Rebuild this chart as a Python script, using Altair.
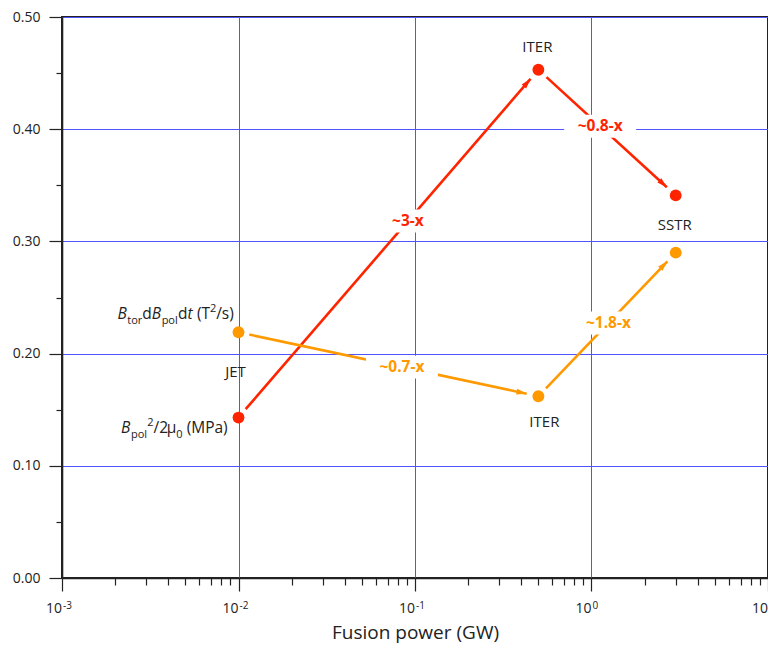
import math
import altair as alt
import pandas as pd

# ---------------- data ----------------
machines = ["JET", "ITER", "SSTR"]
fusion_power = [0.01, 0.5, 3.0]          # GW
bpol_pressure = [0.143, 0.453, 0.341]    # Bpol^2/2mu0 (MPa)  (red)
btor_dbpol = [0.219, 0.162, 0.290]       # Btor dBpol/dt (T^2/s) (orange)
red_ratios = ["~3-x", "~0.8-x"]
orange_ratios = ["~0.7-x", "~1.8-x"]
red_label_frac = [0.565, 0.45]
orange_label_frac = [0.545, 0.51]
x_decades = [0.001, 0.01, 0.1, 1.0, 10.0]
x_decade_exp = ["-3", "-2", "-1", "0", ""]

RED = "#FF2400"
ORANGE = "#FF9900"
GRID = "#5252FF"
INK = "#222222"
FONT = "Open Sans"

W, H = 706, 561
XMIN, XMAX = 1e-3, 10.0
YMIN, YMAX = 0.0, 0.5


def to_px(x, y):
    u = (math.log10(x) - math.log10(XMIN)) / (math.log10(XMAX) - math.log10(XMIN)) * W
    v = (YMAX - y) / (YMAX - YMIN) * H
    return u, v


def from_px(u, v):
    x = 10 ** (math.log10(XMIN) + u / W * (math.log10(XMAX) - math.log10(XMIN)))
    y = YMAX - v / H * (YMAX - YMIN)
    return x, y


segs, heads, boxes = [], [], []
GAP0, GAP1 = 11, 12
for series, ys, ratios, fracs in [
    ("red", bpol_pressure, red_ratios, red_label_frac),
    ("orange", btor_dbpol, orange_ratios, orange_label_frac),
]:
    for i in range(len(fusion_power) - 1):
        u0, v0 = to_px(fusion_power[i], ys[i])
        u1, v1 = to_px(fusion_power[i + 1], ys[i + 1])
        du, dv = u1 - u0, v1 - v0
        L = math.hypot(du, dv)
        eu, ev = du / L, dv / L
        sx, sy = from_px(u0 + eu * GAP0, v0 + ev * GAP0)
        ex, ey = from_px(u1 - eu * GAP1, v1 - ev * GAP1)
        segs.append(dict(x=sx, y=sy, x2=ex, y2=ey, s=series))
        ang = (math.degrees(math.atan2(du, -dv)) + 360) % 360
        heads.append(dict(x=ex, y=ey, angle=ang, s=series))
        f = fracs[i]
        lx, ly = from_px(u0 + du * f, v0 + dv * f)
        txt = ratios[i]
        w = 10 * len(txt) + 12
        hh = 11.5 / (w / 2)
        path = f"M-1,-{hh:.3f}L1,-{hh:.3f}L1,{hh:.3f}L-1,{hh:.3f}Z"
        boxes.append(dict(x=lx, y=ly, text=txt, s=series, size=w * w, path=path))

seg_df = pd.DataFrame(segs)
head_df = pd.DataFrame(heads)
box_df = pd.DataFrame(boxes)
dec_df = pd.DataFrame(dict(x=x_decades, e=x_decade_exp))

pts = pd.DataFrame(
    [dict(x=fusion_power[i], y=bpol_pressure[i], s="red", m=machines[i]) for i in range(3)]
    + [dict(x=fusion_power[i], y=btor_dbpol[i], s="orange", m=machines[i]) for i in range(3)]
)

color_scale = alt.Scale(domain=["red", "orange"], range=[RED, ORANGE])

decade_test = "abs(log(datum.value)/LN10 - round(log(datum.value)/LN10)) < 0.001"
x_values = []
for d in range(-3, 1):
    for m in range(1, 10):
        x_values.append(round(m * 10 ** d, 6))
x_values.append(10)

y_test = "abs(datum.value*10 - round(datum.value*10)) < 0.001"
y_values = [round(0.05 * k, 2) for k in range(11)]

x_scale = alt.Scale(type="log", domain=[XMIN, XMAX], nice=False)
y_scale = alt.Scale(domain=[YMIN, YMAX], nice=False, zero=False)

x_axis = alt.Axis(
    values=x_values,
    labels=False,
    tickSize={"condition": {"test": decade_test, "value": 13}, "value": 7},
    gridOpacity={"condition": {"test": decade_test, "value": 1}, "value": 0},
    grid=True,
    gridColor=GRID,
    gridWidth=1,
    title="Fusion power (GW)",
    titleFont=FONT,
    titleFontSize=19,
    titleFontWeight="normal",
    titleColor=INK,
    titlePadding=32,
    domainColor=INK,
    domainWidth=1.6,
    tickColor=INK,
    tickWidth=1.2,
)
y_axis = alt.Axis(
    values=y_values,
    labelExpr=f"{y_test} ? format(datum.value, '.2f') : ''",
    tickSize={"condition": {"test": y_test, "value": 13}, "value": 6},
    gridOpacity={"condition": {"test": y_test, "value": 1}, "value": 0},
    grid=True,
    gridColor=GRID,
    gridWidth=1,
    title=None,
    labelFont=FONT,
    labelFontSize=14,
    labelColor=INK,
    labelPadding=9,
    labelOverlap=False,
    labelFlush=False,
    domainColor=INK,
    domainWidth=1.6,
    tickColor=INK,
    tickWidth=1.2,
)

X = alt.X("x:Q", scale=x_scale, axis=x_axis)
Y = alt.Y("y:Q", scale=y_scale, axis=y_axis)
C = alt.Color("s:N", scale=color_scale, legend=None)

lines = alt.Chart(seg_df).mark_rule(strokeWidth=2.6).encode(
    x=X, y=Y, x2="x2:Q", y2="y2:Q", color=C
)
arrow_path = "M0,0L0.42,1.45L-0.42,1.45Z"
arrows = alt.Chart(head_df).mark_point(
    shape=arrow_path, filled=True, size=196, opacity=1, strokeWidth=0
).encode(x="x:Q", y="y:Q", angle=alt.Angle("angle:Q", scale=None), color=C)

bg = alt.Chart(box_df).mark_point(filled=True, color="white", opacity=1, strokeWidth=0).encode(
    x="x:Q", y="y:Q",
    shape=alt.Shape("path:N", scale=None),
    size=alt.Size("size:Q", scale=None),
)
ratio_text = alt.Chart(box_df).mark_text(
    font=FONT, fontSize=15.5, fontWeight="bold", baseline="middle", align="center"
).encode(x="x:Q", y="y:Q", text="text:N", color=C)

dots = alt.Chart(pts).mark_circle(size=140, opacity=1).encode(x="x:Q", y="y:Q", color=C)

# x tick labels 10^n composed of base and superscript
dec_base = alt.Chart(dec_df).mark_text(
    text="10", font=FONT, fontSize=14, color=INK, align="right", baseline="alphabetic", dx=0
).encode(x="x:Q", y=alt.value(H + 35))
dec_sup = alt.Chart(dec_df).mark_text(
    font=FONT, fontSize=10, color=INK, align="left", baseline="alphabetic", dx=1
).encode(x="x:Q", y=alt.value(H + 31), text="e:N")


def note(x, y, text, dx, dy, align="center"):
    df = pd.DataFrame([dict(x=x, y=y, t=text)])
    return alt.Chart(df).mark_text(
        font=FONT, fontSize=15, color=INK, dx=dx, dy=dy, align=align, baseline="middle"
    ).encode(x="x:Q", y="y:Q", text="t:N")


# approximate Open Sans advance widths (em) for composing rich labels
ADV = {' ': 0.26, '(': 0.296, ')': 0.296, '/': 0.28, '0': 0.572, '2': 0.572,
       'B': 0.635, 'M': 0.892, 'P': 0.595, 'T': 0.539, 'a': 0.556, 'd': 0.613, 'l': 0.266,
       'o': 0.604, 'p': 0.613, 'r': 0.408, 's': 0.477, 't': 0.353, 'μ': 0.62}


def rich(x, y, pieces, right_dx, base_dy):
    widths = [sum(ADV.get(ch, 0.55) for ch in t) * fs for t, fs, st, off in pieces]
    cur = right_dx - sum(widths)
    df = pd.DataFrame([dict(x=x, y=y)])
    layers = []
    for (t, fs, st, off), w in zip(pieces, widths):
        lead = len(t) - len(t.lstrip(" "))
        shown = t.lstrip(" ")
        layers.append(
            alt.Chart(df).mark_text(
                text=shown, font=FONT, fontSize=fs, fontStyle=st, color=INK,
                align="left", baseline="alphabetic",
                dx=cur + lead * ADV[" "] * fs, dy=base_dy + off,
            ).encode(x="x:Q", y="y:Q")
        )
        cur += w
    return layers


BS, SS = 15.5, 11
label_btor = [("B", BS, "italic", 0), ("tor", SS, "normal", 5), ("d", BS, "normal", 0),
              ("B", BS, "italic", 0), ("pol", SS, "normal", 5), ("d", BS, "normal", 0),
              ("t", BS, "italic", 0), (" (T", BS, "normal", 0), ("2", SS, "normal", -7),
              ("/s)", BS, "normal", 0)]
label_bpol = [("B", BS, "italic", 0), ("pol", SS, "normal", 5), ("2", SS, "normal", -7),
              ("/2", BS, "normal", 0), ("μ", BS, "normal", 0), ("0", SS, "normal", 5),
              (" (MPa)", BS, "normal", 0)]

notes = [
    note(fusion_power[1], bpol_pressure[1], machines[1], -1, -23),
    note(fusion_power[2], btor_dbpol[2], machines[2], -1, -28),
    note(fusion_power[1], btor_dbpol[1], machines[1], 6, 26),
    note(fusion_power[0], bpol_pressure[0], machines[0], -3, -46),
]
notes += rich(fusion_power[0], btor_dbpol[0], label_btor, -6, -13)
notes += rich(fusion_power[0], bpol_pressure[0], label_bpol, -11, 15)

chart = (
    alt.layer(lines, arrows, bg, ratio_text, dots, dec_base, dec_sup, *notes)
    .properties(
        width=W,
        height=H,
        autosize="none",
        padding={"left": 54, "top": 9, "right": 0, "bottom": 67},
        background="white",
    )
    .configure_view(stroke=INK, strokeWidth=2)
)

chart.save("out.html", embed_options={"renderer": "svg", "actions": False})
